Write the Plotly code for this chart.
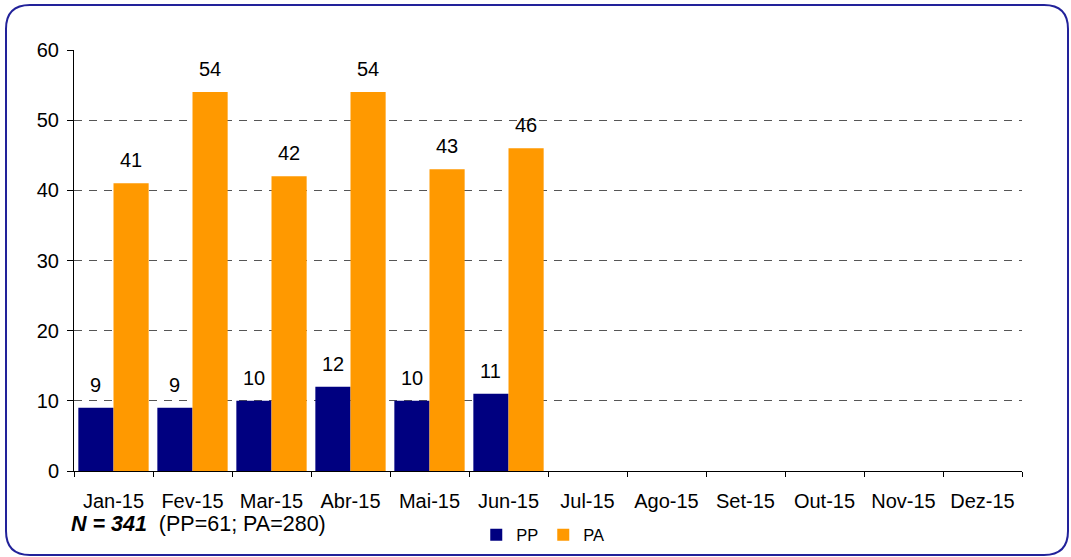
import plotly.graph_objects as go

months = ["Jan-15", "Fev-15", "Mar-15", "Abr-15", "Mai-15", "Jun-15",
          "Jul-15", "Ago-15", "Set-15", "Out-15", "Nov-15", "Dez-15"]
pp_values = [9, 9, 10, 12, 10, 11, None, None, None, None, None, None]
pa_values = [41, 54, 42, 54, 43, 46, None, None, None, None, None, None]
y_ticks = [0, 10, 20, 30, 40, 50, 60]
note_bold = "N = 341"
note_rest = "(PP=61; PA=280)"

W, H = 1071, 557
L, R, T, B = 74, 49, 50, 86
PW, PH = W - L - R, H - T - B
FONT = "Liberation Sans, Arial, sans-serif"
FS = 20

fig = go.Figure()
fig.add_trace(go.Bar(name="PP", x=months, y=pp_values, marker_color="#000080",
                     marker_line_width=0))
fig.add_trace(go.Bar(name="PA", x=months, y=pa_values, marker_color="#FF9900",
                     marker_line_width=0))

bar_half = PW / len(months) * (1 - 0.11) / 4
annotations = []
for vals, shift in ((pp_values, -bar_half), (pa_values, bar_half)):
    for m, v in zip(months, vals):
        if v is None:
            continue
        annotations.append(dict(x=m, y=v, xref="x", yref="y", text=str(v),
                                showarrow=False, yanchor="bottom", xshift=shift,
                                yshift=10, font=dict(size=FS, color="#000")))

annotations.append(dict(x=-0.005, y=-0.125, xref="paper", yref="paper",
                        xanchor="left", yanchor="middle", showarrow=False,
                        text=f"<b><i>{note_bold}</i></b>  {note_rest}",
                        font=dict(size=21.5, color="#000")))


def px(x):
    return (x - L) / PW


def py(y):
    return (H - B - y) / PH


x0, x1, y0, y1, r = 6, 1068, 5, 555, 24
path = (f"M {px(x0 + r)},{py(y0)} L {px(x1 - r)},{py(y0)} "
        f"Q {px(x1)},{py(y0)} {px(x1)},{py(y0 + r)} "
        f"L {px(x1)},{py(y1 - r)} Q {px(x1)},{py(y1)} {px(x1 - r)},{py(y1)} "
        f"L {px(x0 + r)},{py(y1)} Q {px(x0)},{py(y1)} {px(x0)},{py(y1 - r)} "
        f"L {px(x0)},{py(y0 + r)} Q {px(x0)},{py(y0)} {px(x0 + r)},{py(y0)} Z")

fig.update_layout(
    width=W, height=H,
    margin=dict(l=L, r=R, t=T, b=B, autoexpand=False),
    paper_bgcolor="white", plot_bgcolor="white",
    barmode="group", bargap=0.11, bargroupgap=0,
    font=dict(family=FONT, size=FS, color="#000"),
    showlegend=True,
    legend=dict(orientation="h", x=0.495, xanchor="center", y=-0.152,
                yanchor="middle", font=dict(size=16.5), itemwidth=30,
                entrywidth=22, entrywidthmode="pixels",
                bgcolor="rgba(0,0,0,0)"),
    annotations=annotations,
    shapes=[dict(type="path", xref="paper", yref="paper", path=path,
                 line=dict(color="#22229A", width=2), layer="above")],
    xaxis=dict(showline=True, linecolor="#000", linewidth=1, ticks="outside",
               tickson="boundaries", ticklen=5, tickcolor="#000",
               showgrid=False, ticklabelstandoff=12, automargin=False,
               tickfont=dict(size=FS)),
    yaxis=dict(range=[0, 60], tickvals=y_ticks, showline=True, linecolor="#000",
               linewidth=1, ticks="outside", ticklen=6, tickcolor="#000",
               showgrid=True, gridcolor="#555555", griddash="8px,7px",
               gridwidth=1, zeroline=False, tickfont=dict(size=FS),
               ticklabelstandoff=4, automargin=False),
)

fig.write_html(
    "out.html",
    config={"displayModeBar": False, "staticPlot": True},
    post_script=(
        "document.documentElement.style.margin='0';"
        "document.documentElement.style.padding='0';"
        "document.documentElement.style.overflow='hidden';"
        "document.body.style.margin='0';"
        "document.body.style.padding='0';"
        "document.body.style.overflow='hidden';"
        "document.body.style.height='557px';"
    ),
)
